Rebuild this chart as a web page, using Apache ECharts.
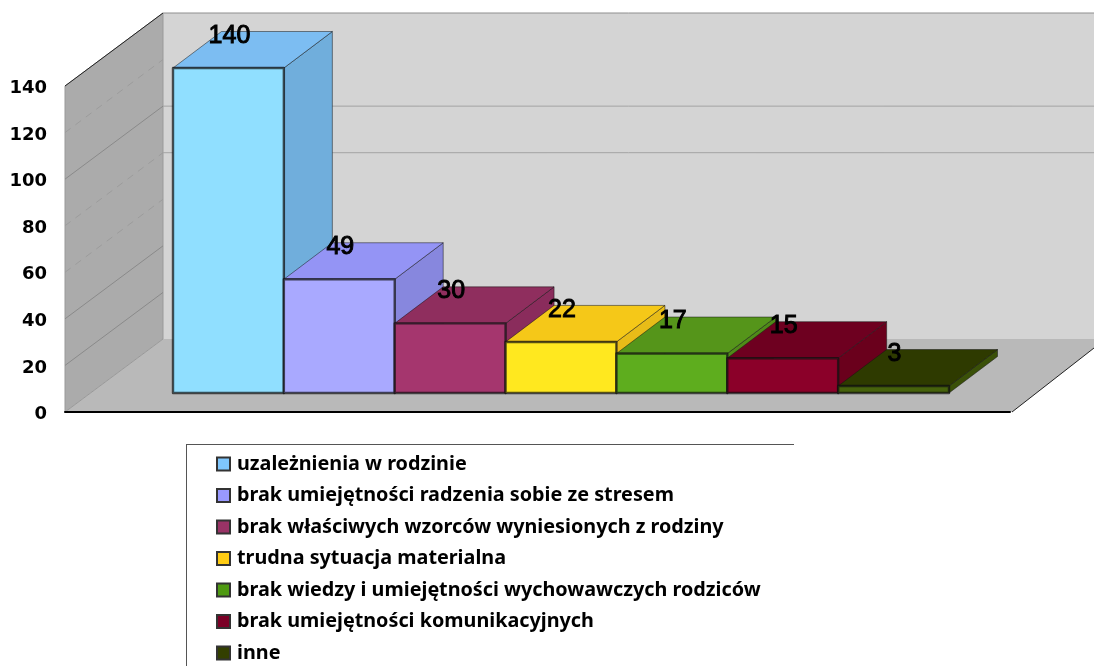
<!DOCTYPE html>
<html><head><meta charset="utf-8">
<style>html,body{margin:0;padding:0;background:#fff}#c{width:1094px;height:666px;filter:blur(0.45px)}</style>
<script src="https://cdn.jsdelivr.net/npm/echarts@6/dist/echarts.min.js"></script>
</head><body><div id="c"></div>
<script>
const categories = ["uzależnienia w rodzinie","brak umiejętności radzenia sobie ze stresem","brak właściwych wzorców wyniesionych z rodziny","trudna sytuacja materialna","brak wiedzy i umiejętności wychowawczych rodziców","brak umiejętności komunikacyjnych","inne"];
const values = [140,49,30,22,17,15,3];
const yTicks = [0,20,40,60,80,100,120,140];
const backWallTicks = [80,100];
const solidWallTicks = [20,40,100];
const legendColors = ["#7FC6FC","#9999FF","#993366","#FFCC14","#4F9A12","#7A0026","#333F00"];
const frontColors = ["#90DFFF","#A9A9FF","#A5366E","#FFE81F","#5EAD1E","#8B0029","#46620C"];
const topColors = ["#7CBDF2","#9494F5","#8F2E5E","#F5C818","#55951A","#6E0020","#2E3A00"];
const sideColors = ["#70AEDC","#8787DE","#8A2C5C","#E8BC18","#4F8A18","#6A001C","#3A5008"];
const DX = 48.5, DY = -36.5, WX = 98, WY = -73;

const chart = echarts.init(document.getElementById('c'));

function poly(points, fill, stroke, lw){
  return {type:'polygon', shape:{points}, style:{fill, stroke: stroke||'none', lineWidth: lw||0, lineJoin:'round'}};
}
function barRender(i){
  return function(params, api){
    const c = api.coord([api.value(0), api.value(1)]);
    const base = api.coord([api.value(0), 0]);
    const w = api.size([1,0])[0];
    const x0 = c[0]-w/2, x1 = c[0]+w/2, yT = c[1], yB = base[1];
    const edge = 'rgba(15,15,15,0.7)';
    return {type:'group', children:[
      poly([[x1,yT],[x1+DX,yT+DY],[x1+DX,yB+DY],[x1,yB]], sideColors[i], 'rgba(20,20,20,0.5)', 1),
      poly([[x0,yT],[x0+DX,yT+DY],[x1+DX,yT+DY],[x1,yT]], topColors[i], 'rgba(20,20,20,0.5)', 1),
      poly([[x0,yT],[x1,yT],[x1,yB],[x0,yB]], frontColors[i], edge, 2.4),
      {type:'text', z2:100, style:{x:c[0]+1, y:yT-32, text:String(values[i]), align:'center', verticalAlign:'middle',
        fontFamily:'"Liberation Sans"', fontSize:25, fill:'#000', stroke:'#000', lineWidth:1}}
    ]};
  };
}
const barSeries = categories.map((name,i)=>({
  name, type:'custom', xAxisIndex:1, yAxisIndex:1, z:3,
  itemStyle:{color:legendColors[i], borderColor:'#333', borderWidth:1},
  encode:{x:0,y:1}, data:[[i, values[i]]], renderItem:barRender(i), silent:true
}));
const gridSeries = {
  type:'custom', xAxisIndex:0, yAxisIndex:0, z:1, silent:true,
  encode:{y:0}, data:yTicks.filter(t=>t>0&&t<140).map(t=>[t]),
  renderItem(params, api){
    const v = api.value(0);
    const p = api.coord([0, v]);
    const solid = solidWallTicks.includes(v);
    const kids = [{type:'line', shape:{x1:p[0],y1:p[1],x2:p[0]+WX,y2:p[1]+WY},
      style:{stroke: solid?'#8a8a8a':'#9c9c9c', lineWidth:1, lineDash: solid?null:[7,6]}}];
    if(backWallTicks.includes(v)){
      kids.push({type:'line', shape:{x1:p[0]+WX,y1:p[1]+WY,x2:api.getWidth(),y2:p[1]+WY}, style:{stroke:'#a3a3a3',lineWidth:1}});
    }
    return {type:'group',children:kids};
  }
};
chart.setOption({
  animation:false,
  backgroundColor:'#fff',
  grid:[
    {left:65, width:945, top:86, height:326},
    {left:173, width:776, top:68, height:325}
  ],
  xAxis:[
    {gridIndex:0, type:'value', min:0, max:1, axisLabel:{show:false}, axisTick:{show:false}, splitLine:{show:false},
      axisLine:{show:true, lineStyle:{color:'#000',width:2}}},
    {gridIndex:1, type:'category', data:categories, show:false}
  ],
  yAxis:[
    {gridIndex:0, type:'value', min:0, max:140, interval:20, splitLine:{show:false}, axisLine:{show:false}, axisTick:{show:false},
      axisLabel:{margin:18, verticalAlign:'top', lineHeight:5, color:'#000', fontFamily:'"DejaVu Sans"', fontWeight:'bold', fontSize:18}},
    {gridIndex:1, type:'value', min:0, max:140, show:false}
  ],
  legend:{
    orient:'vertical', left:211, top:449, height:217, icon:'rect', itemWidth:13, itemHeight:13, itemGap:11.5, selectedMode:false,
    data:categories, align:'left',
    textStyle:{color:'#000', fontFamily:'"Noto Sans"', fontWeight:'bold', fontSize:19.8, height:20, lineHeight:20, padding:[0,0,0,2]}
  },
  graphic:[
    {type:'polygon', z:-5, shape:{points:[[163,13],[1094,13],[1094,339],[163,339]]}, style:{fill:'#d4d4d4'}},
    {type:'line', z:-4, shape:{x1:163,y1:13,x2:1094,y2:13}, style:{stroke:'#8e8e8e',lineWidth:1}},
    {type:'polygon', z:-4, shape:{points:[[65,412],[163,339],[1094,339],[1094,348],[1012,412]]}, style:{fill:'#b9b9b9'}},
    {type:'polygon', z:-3, shape:{points:[[65,86],[163,13],[163,339],[65,412]]}, style:{fill:'#ababab',stroke:'#999',lineWidth:1}},
    {type:'line', z:-2, shape:{x1:65,y1:86,x2:163,y2:13}, style:{stroke:'#222',lineWidth:1}},
    {type:'line', z:-2, shape:{x1:1012,y1:412,x2:1094,y2:348}, style:{stroke:'#222',lineWidth:1}},
    {type:'line', z:-2, shape:{x1:186,y1:444.5,x2:794,y2:444.5}, style:{stroke:'#555',lineWidth:1}},
    {type:'line', z:-2, shape:{x1:186.5,y1:444,x2:186.5,y2:666}, style:{stroke:'#555',lineWidth:1}}
  ],
  series:[gridSeries, ...barSeries]
});
</script></body></html>
